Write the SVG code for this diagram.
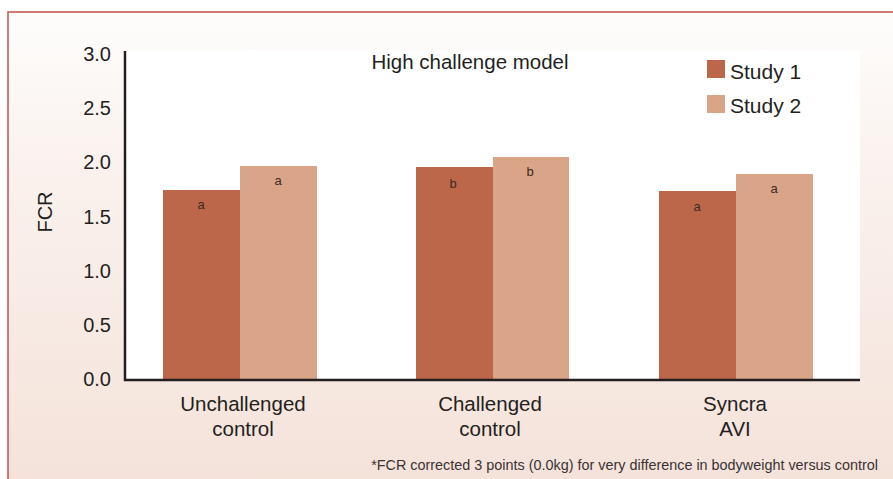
<svg xmlns="http://www.w3.org/2000/svg" width="893" height="479" viewBox="0 0 893 479">
<defs>
<linearGradient id="bg" x1="0" y1="0" x2="0" y2="1">
<stop offset="0" stop-color="#fefdfc"/>
<stop offset="0.35" stop-color="#faf1ed"/>
<stop offset="1" stop-color="#f4e2d9"/>
</linearGradient>
<style>
text{font-family:"Liberation Sans",Arial,sans-serif;fill:#231f20}
.tick{font-size:20px;text-anchor:end}
.cat{font-size:20.5px;text-anchor:middle}
.sig{font-family:"Liberation Sans",Arial,sans-serif;font-size:13px;text-anchor:middle;fill:#3a2a24}
.s1{fill:#bd674a}
.s2{fill:#d9a488}
.axis{stroke:#231f20;stroke-width:2.5;fill:none}
</style>
</defs>
<rect x="0" y="0" width="893" height="479" fill="#ffffff"/>
<rect x="8" y="12" width="900" height="480" fill="url(#bg)" stroke="#c0504d" stroke-width="1.5"/>
<rect x="126" y="50" width="734" height="330" fill="#ffffff"/>
<g id="title"><text x="470" y="69" style="font-size:20.5px;text-anchor:middle">High challenge model</text></g>
<g id="legend">
<rect class="s1" x="707" y="60" width="18" height="18"/>
<text x="730" y="79" style="font-size:21px">Study 1</text>
<rect class="s2" x="707" y="95" width="18" height="18"/>
<text x="730" y="113" style="font-size:21px">Study 2</text>
</g>
<g id="yaxis">
<text class="tick" x="111" y="61">3.0</text>
<text class="tick" x="111" y="115">2.5</text>
<text class="tick" x="111" y="169">2.0</text>
<text class="tick" x="111" y="224">1.5</text>
<text class="tick" x="111" y="278">1.0</text>
<text class="tick" x="111" y="332">0.5</text>
<text class="tick" x="111" y="386">0.0</text>
<text transform="translate(52,212) rotate(-90)" style="font-size:20px;text-anchor:middle">FCR</text>
</g>
<g id="bars">
<g id="unchallenged">
<rect class="s1" x="163" y="190" width="77" height="190"/>
<rect class="s2" x="240" y="166" width="77" height="214"/>
<text class="sig" x="201" y="209">a</text>
<text class="sig" x="278" y="185">a</text>
</g>
<g id="challenged">
<rect class="s1" x="416" y="167" width="77" height="213"/>
<rect class="s2" x="493" y="157" width="76" height="223"/>
<text class="sig" x="453" y="188">b</text>
<text class="sig" x="530" y="176">b</text>
</g>
<g id="syncra">
<rect class="s1" x="659" y="191" width="77" height="189"/>
<rect class="s2" x="736" y="174" width="77" height="206"/>
<text class="sig" x="697" y="211">a</text>
<text class="sig" x="774" y="193">a</text>
</g>
</g>
<g id="connectors">
<path class="axis" d="M125,51 V380 H860"/>
</g>
<g id="categories">
<text class="cat" x="243" y="411">Unchallenged</text>
<text class="cat" x="243" y="436">control</text>
<text class="cat" x="490" y="411">Challenged</text>
<text class="cat" x="490" y="436">control</text>
<text class="cat" x="735" y="411">Syncra</text>
<text class="cat" x="735" y="436">AVI</text>
</g>
<g id="footnote"><text x="878" y="470" style="font-size:14.4px;text-anchor:end;fill:#3a3234">*FCR corrected 3 points (0.0kg) for very difference in bodyweight versus control</text></g>
</svg>
